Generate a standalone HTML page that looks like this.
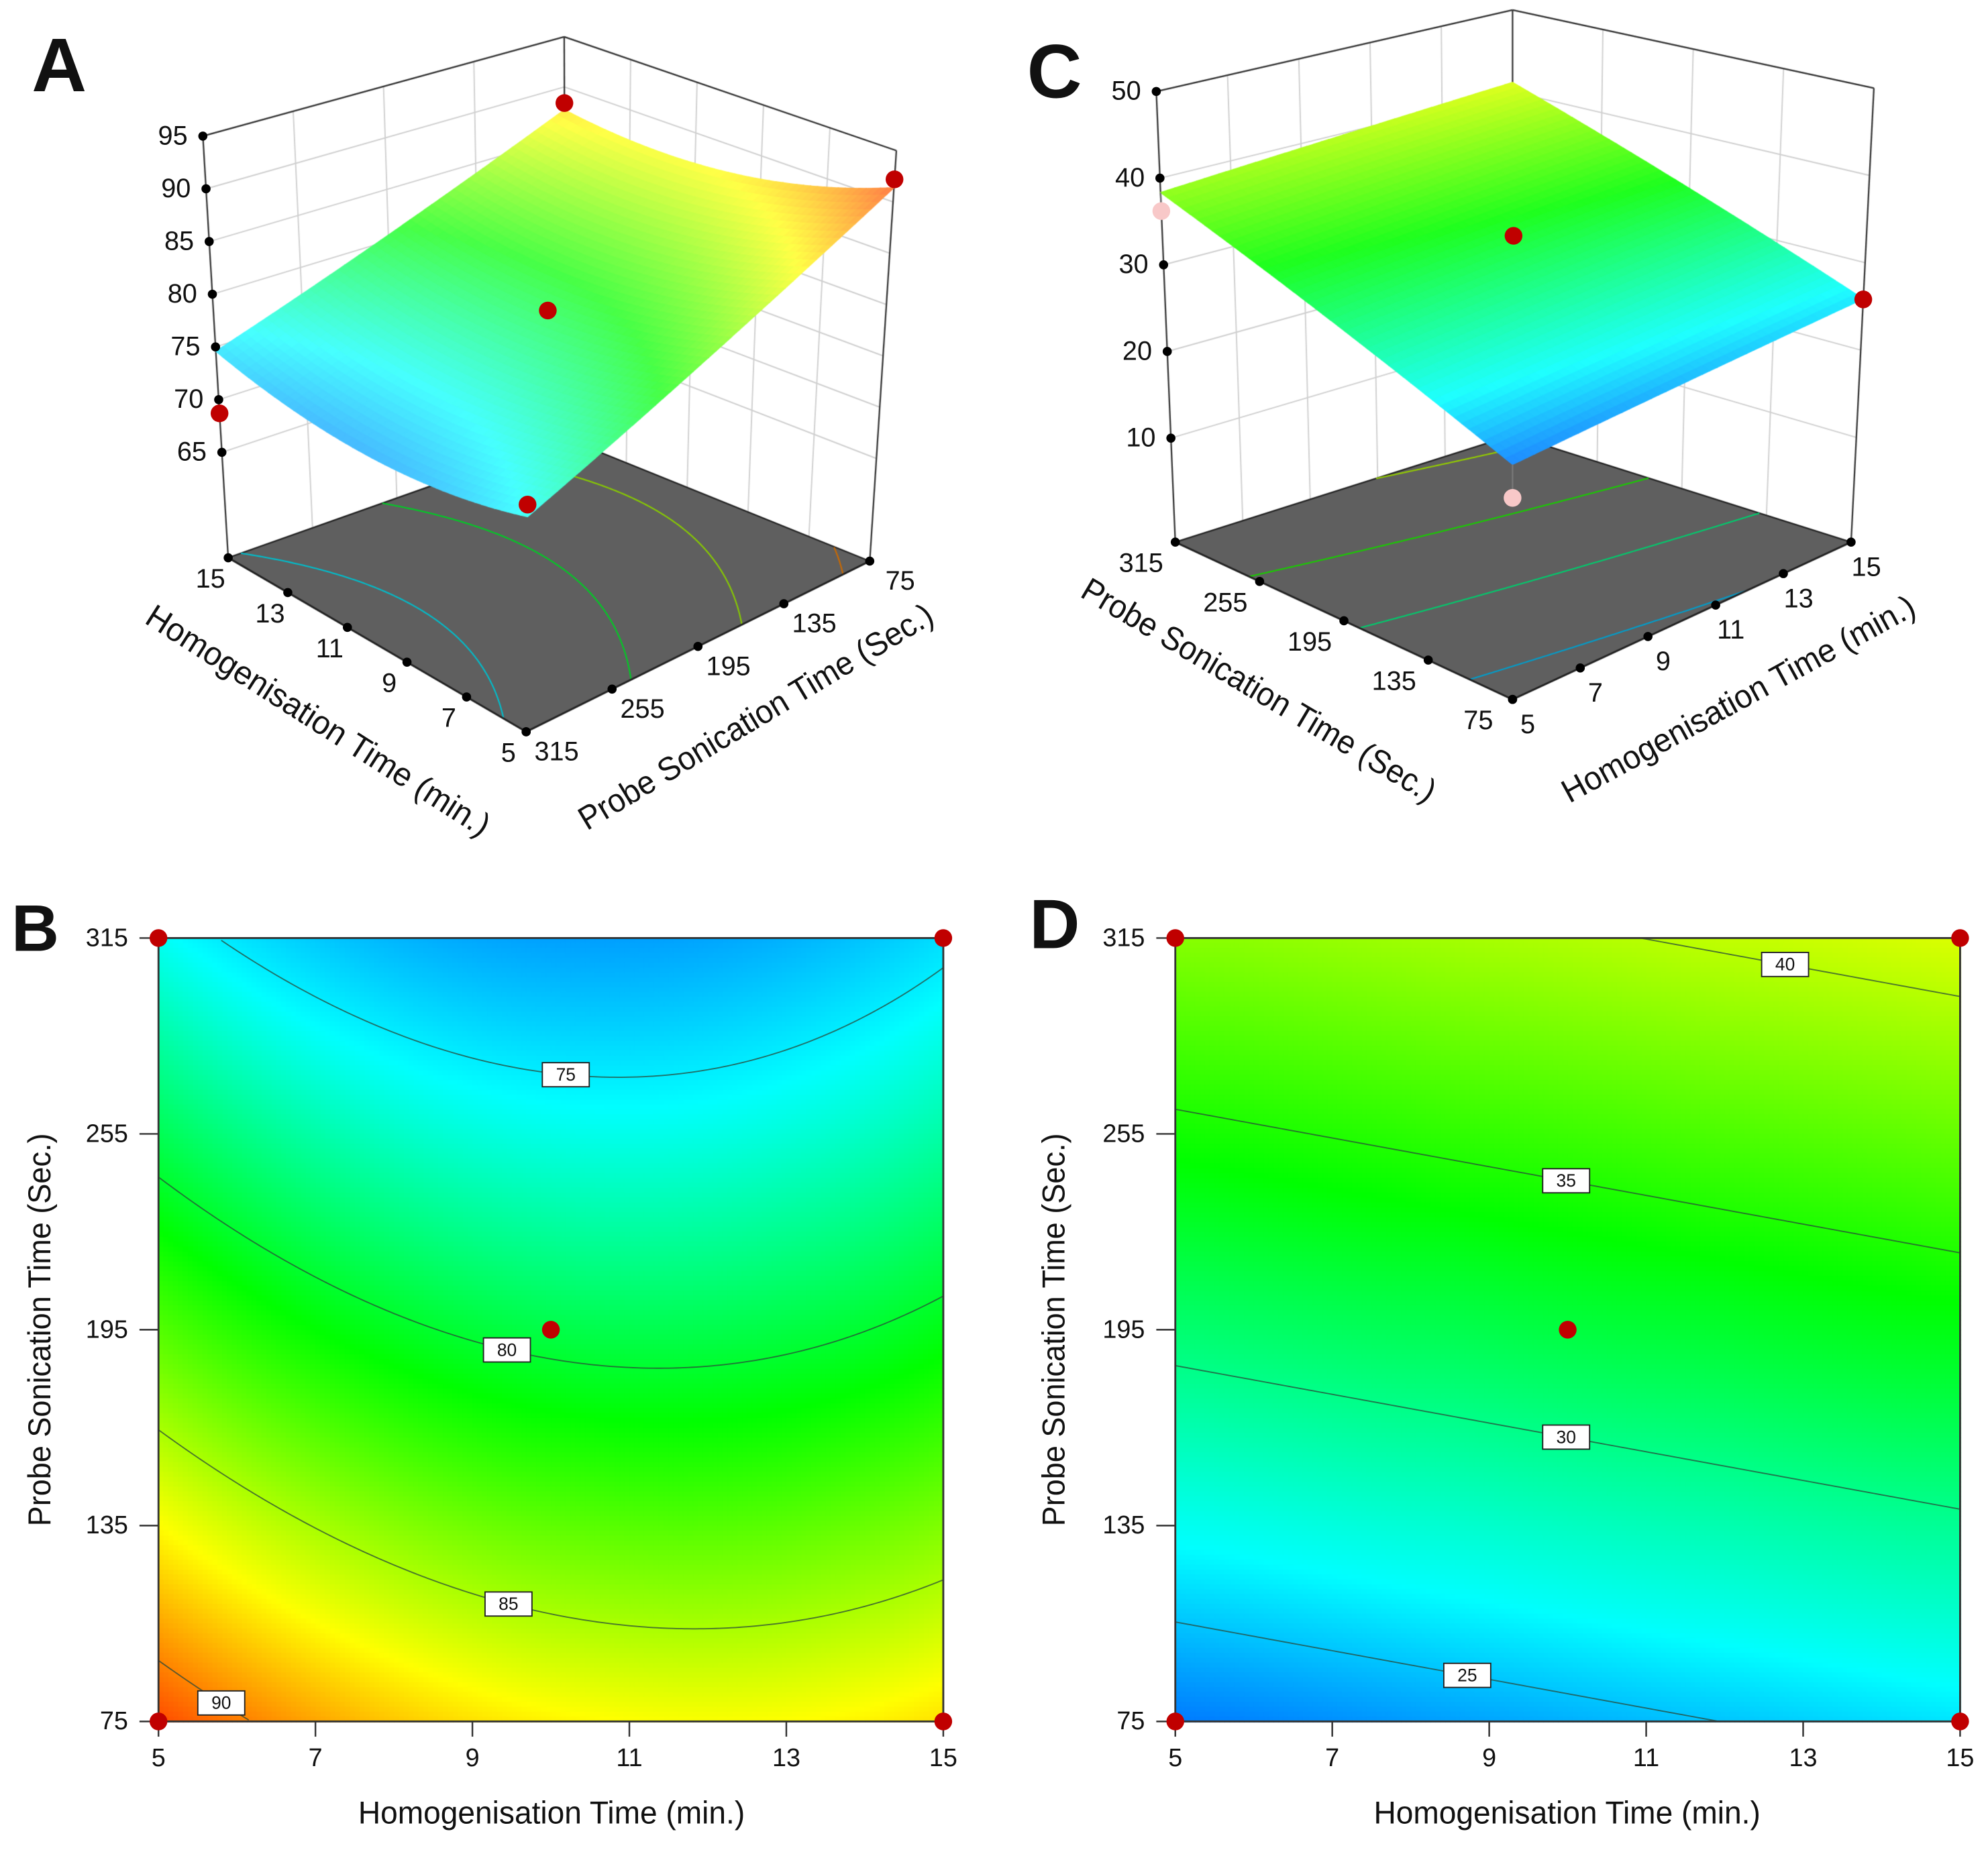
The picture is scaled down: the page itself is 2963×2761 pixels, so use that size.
<!DOCTYPE html>
<html>
<head>
<meta charset="utf-8">
<style>
html,body{margin:0;padding:0;background:#fff;}
#wrap{position:relative;width:2963px;height:2761px;overflow:hidden;background:#fff;}
#cv{position:absolute;left:0;top:0;}
#svg{position:absolute;left:0;top:0;}
text{font-family:"Liberation Sans","DejaVu Sans",sans-serif;fill:#111;}
</style>
</head>
<body>
<div id="wrap">
<canvas id="cv" width="2963" height="2761"></canvas>
<svg id="svg" xmlns="http://www.w3.org/2000/svg" width="2963" height="2761" viewBox="0 0 1568 1461" preserveAspectRatio="none">
  <text x="25" y="72" font-size="60" font-weight="bold">A</text>
  <text x="810" y="77" font-size="60" font-weight="bold">C</text>
  <text x="9" y="750" font-size="52" font-weight="bold">B</text>
  <text x="812" y="748" font-size="55" font-weight="bold">D</text>

  <text x="250" y="570" font-size="26" text-anchor="middle" dominant-baseline="middle" transform="rotate(32.5 250 570)" textLength="316" lengthAdjust="spacingAndGlyphs">Homogenisation Time (min.)</text>
  <text x="597" y="567" font-size="26" text-anchor="middle" dominant-baseline="middle" transform="rotate(-31 597 567)" textLength="321" lengthAdjust="spacingAndGlyphs">Probe Sonication Time (Sec.)</text>
  <text x="992" y="546" font-size="26" text-anchor="middle" dominant-baseline="middle" transform="rotate(30.7 992 546)" textLength="320" lengthAdjust="spacingAndGlyphs">Probe Sonication Time (Sec.)</text>
  <text x="1372" y="553" font-size="26" text-anchor="middle" dominant-baseline="middle" transform="rotate(-28.6 1372 553)" textLength="313" lengthAdjust="spacingAndGlyphs">Homogenisation Time (min.)</text>

  <text x="435" y="1432" font-size="25" text-anchor="middle" dominant-baseline="middle" textLength="305" lengthAdjust="spacingAndGlyphs">Homogenisation Time (min.)</text>
  <text x="33" y="1049" font-size="25" text-anchor="middle" dominant-baseline="middle" transform="rotate(-90 33 1049)" textLength="310" lengthAdjust="spacingAndGlyphs">Probe Sonication Time (Sec.)</text>
  <text x="1236" y="1432" font-size="25" text-anchor="middle" dominant-baseline="middle" textLength="305" lengthAdjust="spacingAndGlyphs">Homogenisation Time (min.)</text>
  <text x="833" y="1049" font-size="25" text-anchor="middle" dominant-baseline="middle" transform="rotate(-90 833 1049)" textLength="310" lengthAdjust="spacingAndGlyphs">Probe Sonication Time (Sec.)</text>
</svg>
</div>
<script>
// ---------- data ----------
const hTicks = [5, 7, 9, 11, 13, 15];
const pTicks = [75, 135, 195, 255, 315];
const zTicksA = [65, 70, 75, 80, 85, 90, 95];
const zTicksC = [10, 20, 30, 40, 50];
// quadratic model coefficients in coded units: b0, b1(h), b2(p), b11, b22, b12
const coefSize = [79.46, -1.2, -7.2, 2.3, 0.6, 0.63];
const coefPDI = [32.1, 1.4, 7.64, 0, 0, 0];
const levelsB = [75, 80, 85, 90];
const labelHB = [10.19, 9.44, 9.46, 5.8];
const levelsD = [25, 30, 35, 40];
const labelHD = [8.72, 9.98, 9.98, 12.77];
const designH = [5, 15, 5, 15, 10];
const designP = [75, 75, 315, 315, 195];
const obsA = [92.2, 88.4, 76.9, 68.7, 80.4];
const obsC = [19.5, 25.8, 36.2, null, 34.5];
// colour stops (value -> colour)
const stopValB = [72, 75.5, 81, 87, 92];
const stopValD = [23, 26.5, 34, 41.5];
const stopCol5 = [[0,130,255],[0,255,255],[0,255,0],[255,255,0],[255,50,0]];
const stopCol4 = [[0,120,255],[0,255,255],[0,255,0],[230,255,0]];

// ---------- helpers ----------
const NS = "http://www.w3.org/2000/svg";
const svg = document.getElementById('svg');
const cv = document.getElementById('cv');
const ctx = cv.getContext('2d');
ctx.setTransform(2963/1568, 0, 0, 2761/1461, 0, 0);
const YS = 0.88; // vertical scale for 3D panels

function el(tag, attrs, parent) {
  const e = document.createElementNS(NS, tag);
  for (const k in attrs) e.setAttribute(k, attrs[k]);
  (parent || svg).appendChild(e);
  return e;
}
function model(c, h, p) {
  const x1 = (h - 10) / 5, x2 = (p - 195) / 120;
  return c[0] + c[1]*x1 + c[2]*x2 + c[3]*x1*x1 + c[4]*x2*x2 + c[5]*x1*x2;
}
function cmap(v, vals, cols) {
  if (v <= vals[0]) return cols[0].slice();
  for (let i = 1; i < vals.length; i++) {
    if (v <= vals[i]) {
      const f = (v - vals[i-1]) / (vals[i] - vals[i-1]);
      return [0,1,2].map(k => cols[i-1][k] + f*(cols[i][k]-cols[i-1][k]));
    }
  }
  return cols[cols.length-1].slice();
}
function rgb(c, white, dark) {
  let r=c[0],g=c[1],b=c[2];
  if (white) { r += (255-r)*white; g += (255-g)*white; b += (255-b)*white; }
  if (dark) { r*=dark; g*=dark; b*=dark; }
  return 'rgb(' + Math.round(r) + ',' + Math.round(g) + ',' + Math.round(b) + ')';
}
function solveP(c, h, level) {
  let lo = 75, hi = 315;
  let flo = model(c,h,lo)-level, fhi = model(c,h,hi)-level;
  if (flo*fhi > 0) return null;
  for (let k = 0; k < 40; k++) {
    const m = (lo+hi)/2, fm = model(c,h,m)-level;
    if (fm*flo <= 0) { hi = m; } else { lo = m; flo = fm; }
  }
  return (lo+hi)/2;
}

// ---------- 2D contour panels ----------
function contourPanel(cfg) {
  const X = h => cfg.x0 + (h-5)/10*(cfg.x1-cfg.x0);
  const Y = p => cfg.y1 - (p-75)/240*(cfg.y1-cfg.y0);
  const nx = 160, ny = 160;
  const cw = (cfg.x1-cfg.x0)/nx, ch = (cfg.y1-cfg.y0)/ny;
  for (let i = 0; i < nx; i++) for (let j = 0; j < ny; j++) {
    const h = 5 + 10*(i+0.5)/nx, p = 315 - 240*(j+0.5)/ny;
    ctx.fillStyle = rgb(cmap(model(cfg.coef,h,p), cfg.sv, cfg.sc));
    ctx.fillRect(cfg.x0 + i*cw, cfg.y0 + j*ch, cw+0.6, ch+0.6);
  }
  const g = el('g', {});
  
  
  cfg.levels.forEach((lv, li) => {
    let d = '', pen = false;
    for (let h = 5; h <= 15.0001; h += 0.05) {
      const p = solveP(cfg.coef, h, lv);
      if (p === null) { pen = false; continue; }
      d += (pen ? 'L' : 'M') + X(h).toFixed(2) + ' ' + Y(p).toFixed(2);
      pen = true;
    }
    const path = el('path', {d: d, fill: 'none', stroke: '#2a4a3a', 'stroke-width': 1, 'stroke-opacity': 0.75}, g);
    
    
    const lh = cfg.labelH[li];
    const lp = solveP(cfg.coef, lh, lv);
    if (lp !== null) {
      const lx = X(lh), ly = Y(lp);
      const box = el('rect', {x: lx-18.5, y: ly-9.5, width: 37, height: 19, fill: '#fff', stroke: '#222', 'stroke-width': 1}, g);
      
      
      const t = el('text', {x: lx, y: ly+1, 'font-size': 14, 'text-anchor': 'middle', 'dominant-baseline': 'middle'}, g);
      t.textContent = String(lv);
      
      
    }
  });
  const fr = el('rect', {x: cfg.x0, y: cfg.y0, width: cfg.x1-cfg.x0, height: cfg.y1-cfg.y0, fill: 'none', stroke: '#333', 'stroke-width': 1.5}, g);
  
  
  hTicks.forEach(h => {
    const tk = el('line', {x1: X(h), y1: cfg.y1, x2: X(h), y2: cfg.y1+12, stroke: '#333', 'stroke-width': 1.3}, g);
    
    
    const t = el('text', {x: X(h), y: cfg.y1+30, 'font-size': 20, 'text-anchor': 'middle', 'dominant-baseline': 'middle'}, g);
    t.textContent = String(h);
    
    
  });
  pTicks.forEach(p => {
    const tk = el('line', {x1: cfg.x0-15, y1: Y(p), x2: cfg.x0, y2: Y(p), stroke: '#333', 'stroke-width': 1.3}, g);
    
    
    const t = el('text', {x: cfg.x0-24, y: Y(p)+1, 'font-size': 20, 'text-anchor': 'end', 'dominant-baseline': 'middle'}, g);
    t.textContent = String(p);
    
    
  });
  designH.forEach((h, i) => {
    const c = el('circle', {cx: X(h), cy: Y(designP[i]), r: 7, fill: '#c00000'}, g);
    
    
  });
}
contourPanel({name: 'b', coef: coefSize, x0: 125, x1: 744, y0: 740, y1: 1358, sv: stopValB, sc: stopCol5, levels: levelsB, labelH: labelHB});
contourPanel({name: 'd', coef: coefPDI, x0: 927, x1: 1546, y0: 740, y1: 1358, sv: stopValD, sc: stopCol4, levels: levelsD, labelH: labelHD});

// ---------- 3D panels ----------
function bil(c, s, t) {
  return [
    (1-s)*(1-t)*c.F[0] + s*(1-t)*c.L[0] + (1-s)*t*c.R[0] + s*t*c.B[0],
    (1-s)*(1-t)*c.F[1] + s*(1-t)*c.L[1] + (1-s)*t*c.R[1] + s*t*c.B[1]
  ];
}
function surfacePanel(cfg) {
  const P = (s, t, z) => {
    const f = bil(cfg.floor, s, t), tp = bil(cfg.top, s, t);
    const k = (z - cfg.z0) / (cfg.z1 - cfg.z0);
    return [f[0] + (tp[0]-f[0])*k, (f[1] + (tp[1]-f[1])*k) * YS];
  };
  const seg = (a, b, col, w) => { ctx.strokeStyle = col; ctx.lineWidth = w; ctx.beginPath(); ctx.moveTo(a[0],a[1]); ctx.lineTo(b[0],b[1]); ctx.stroke(); };
  cfg.zTicks.forEach(z => {
    seg(P(1,0,z), P(1,1,z), '#cfcfcf', 1);
    seg(P(1,1,z), P(0,1,z), '#cfcfcf', 1);
  });
  cfg.tVals.forEach(t => seg(P(1,t,cfg.z0), P(1,t,cfg.z1), '#cfcfcf', 1));
  cfg.sVals.forEach(s => seg(P(s,1,cfg.z0), P(s,1,cfg.z1), '#cfcfcf', 1));
  seg(P(1,0,cfg.z1), P(1,1,cfg.z1), '#333', 1.2);
  seg(P(1,1,cfg.z1), P(0,1,cfg.z1), '#333', 1.2);
  seg(P(1,1,cfg.z0), P(1,1,cfg.z1), '#333', 1.2);
  seg(P(1,0,cfg.z0), P(1,0,cfg.z1), '#333', 1.2);
  seg(P(0,1,cfg.z0), P(0,1,cfg.z1), '#333', 1.2);
  ctx.fillStyle = '#5f5f5f';
  ctx.beginPath();
  [[0,0],[1,0],[1,1],[0,1]].forEach((q,i) => { const p = P(q[0],q[1],cfg.z0); if (i) ctx.lineTo(p[0],p[1]); else ctx.moveTo(p[0],p[1]); });
  ctx.closePath(); ctx.fill();
  ctx.strokeStyle = '#222'; ctx.lineWidth = 1.2; ctx.stroke();
  cfg.levels.forEach(lv => {
    ctx.strokeStyle = rgb(cmap(lv, cfg.sv, cfg.sc), 0, 0.8);
    ctx.lineWidth = 1.1;
    ctx.beginPath();
    let pen = false;
    for (let h = 5; h <= 15.0001; h += 0.05) {
      const p = solveP(cfg.coef, h, lv);
      if (p === null) { pen = false; continue; }
      const st = cfg.st(h, p);
      const q = P(st[0], st[1], cfg.z0);
      if (pen) ctx.lineTo(q[0], q[1]); else ctx.moveTo(q[0], q[1]);
      pen = true;
    }
    ctx.stroke();
  });
  const N = 48, quads = [];
  for (let i = 0; i < N; i++) for (let j = 0; j < N; j++) quads.push([i, j]);
  quads.sort((a, b) => (b[0]+b[1]) - (a[0]+a[1]));
  quads.forEach(q => {
    const s0 = q[0]/N, s1 = (q[0]+1)/N, t0 = q[1]/N, t1 = (q[1]+1)/N;
    const pts = [[s0,t0],[s1,t0],[s1,t1],[s0,t1]].map(st => {
      const hp = cfg.hp(st[0], st[1]);
      return P(st[0], st[1], model(cfg.coef, hp[0], hp[1]));
    });
    const hc = cfg.hp((s0+s1)/2, (t0+t1)/2);
    const col = rgb(cmap(model(cfg.coef, hc[0], hc[1]), cfg.sv, cfg.sc), cfg.white);
    ctx.fillStyle = col; ctx.strokeStyle = col; ctx.lineWidth = 0.8;
    ctx.beginPath(); ctx.moveTo(pts[0][0], pts[0][1]);
    for (let k = 1; k < 4; k++) ctx.lineTo(pts[k][0], pts[k][1]);
    ctx.closePath(); ctx.fill(); ctx.stroke();
  });
  seg(P(1,0,cfg.z0), P(0,0,cfg.z0), '#222', 1.4);
  seg(P(0,0,cfg.z0), P(0,1,cfg.z0), '#222', 1.4);

  const g = el('g', {});
  
  
  cfg.zTicks.forEach(z => {
    const q = P(1, 0, z);
    const d = el('circle', {cx: q[0], cy: q[1], r: 3.6, fill: '#000'}, g);
    
    
    const t = el('text', {x: q[0]-12, y: q[1]+1, 'font-size': 21, 'text-anchor': 'end', 'dominant-baseline': 'middle'}, g);
    t.textContent = String(z);
    
    
  });
  cfg.edgeTicks.forEach(et => {
    et.vals.forEach(v => {
      const st = et.st(v);
      const q = P(st[0], st[1], cfg.z0);
      const d = el('circle', {cx: q[0], cy: q[1], r: 3.6, fill: '#000'}, g);
      
      
      const t = el('text', {x: q[0]+et.off[0], y: q[1]+et.off[1], 'font-size': 21, 'text-anchor': 'middle', 'dominant-baseline': 'middle'}, g);
      t.textContent = String(v);
      
      
    });
  });
  designH.forEach((h, i) => {
    const v = cfg.obs[i];
    if (v === null) return;
    const st = cfg.st(h, designP[i]);
    const q = P(st[0], st[1], v);
    const below = cfg.pinkBelow && v < model(cfg.coef, h, designP[i]) - 0.5;
    if (below) {
      const qs = P(st[0], st[1], model(cfg.coef, h, designP[i]));
      const ln = el('line', {x1: qs[0], y1: qs[1], x2: q[0], y2: q[1], stroke: '#777', 'stroke-width': 1.2}, g);
      
      
    }
    const c = el('circle', {cx: q[0], cy: q[1], r: 7, fill: below ? '#f8c8c8' : '#c00000'}, g);
    
    
  });
}

surfacePanel({
  name: 'a', coef: coefSize, sv: stopValB, sc: stopCol5, white: 0.28, levels: levelsB,
  floor: {F:[415,656], L:[180,500], R:[686,503], B:[446,393]},
  top:   {F:[417,284], L:[160,122], R:[707,135], B:[445,33]},
  z0: 55, z1: 95, zTicks: zTicksA, obs: obsA, pinkBelow: false,
  st: (h, p) => [(h-5)/10, (315-p)/240],
  hp: (s, t) => [5+10*s, 315-240*t],
  tVals: pTicks.map(p => (315-p)/240).filter(t => t > 0 && t < 1),
  sVals: hTicks.map(h => (h-5)/10).filter(s => s > 0 && s < 1),
  edgeTicks: [
    {name: 'h', vals: hTicks, st: h => [(h-5)/10, 0], off: [-14, 18]},
    {name: 'p', vals: pTicks, st: p => [0, (315-p)/240], off: [24, 17]}
  ]
});
surfacePanel({
  name: 'c', coef: coefPDI, sv: stopValD, sc: stopCol4, white: 0.12, levels: levelsD,
  floor: {F:[1193,627], L:[927,486], R:[1460,486], B:[1193,390]},
  top:   {F:[1193,190], L:[912,82], R:[1478,79], B:[1193,9]},
  z0: -2, z1: 50, zTicks: zTicksC, obs: obsC, pinkBelow: true,
  st: (h, p) => [(p-75)/240, (h-5)/10],
  hp: (s, t) => [5+10*t, 75+240*s],
  tVals: hTicks.map(h => (h-5)/10).filter(t => t > 0 && t < 1),
  sVals: pTicks.map(p => (p-75)/240).filter(s => s > 0 && s < 1),
  edgeTicks: [
    {name: 'p', vals: pTicks, st: p => [(p-75)/240, 0], off: [-27, 18]},
    {name: 'h', vals: hTicks, st: h => [0, (h-5)/10], off: [12, 21]}
  ]
});
</script>
</body>
</html>
